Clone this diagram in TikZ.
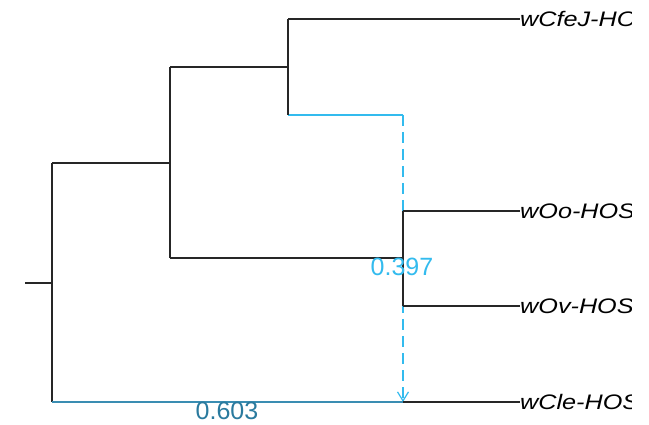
\documentclass[tikz,border=0pt]{standalone}
\usepackage{fontspec}
\setmainfont{Liberation Sans}
\usetikzlibrary{arrows.meta}
\definecolor{lightedge}{HTML}{33BBEE}
\definecolor{deepedge}{HTML}{3A8DB2}
\definecolor{deeptext}{HTML}{2A7A9E}
\tikzset{
  branch/.style={draw=black!85, line width=1.6pt},
  reticulate/.style={draw=lightedge, line width=1.6pt},
  major/.style={draw=deepedge, line width=1.6pt},
  hybrid/.style={draw=lightedge, line width=1.2pt, dash pattern=on 11pt off 6pt,
    -{Straight Barb[length=9pt,width=11pt,line width=1.2pt]}},
  tiplabel/.style={anchor=west, inner sep=0pt, xscale=1.2,
    font=\fontsize{21}{21}\selectfont\itshape},
  gammalabel/.style={inner sep=0pt, font=\fontsize{25}{25}\selectfont}
}
\begin{document}
\begin{tikzpicture}[x=1pt, y=-1pt]
\useasboundingbox (0,0) rectangle (649,425);
% internal vertices
\coordinate (root) at (25,283);
\coordinate (r) at (52,283);
\coordinate (rA) at (52,163);
\coordinate (rB) at (52,402);
\coordinate (a) at (170,163);
\coordinate (aU) at (170,67);
\coordinate (aD) at (170,258);
\coordinate (b) at (288,67);
\coordinate (bU) at (288,19);
\coordinate (bD) at (288,115);
\coordinate (h) at (403,115);
\coordinate (c) at (403,258);
\coordinate (cU) at (403,211);
\coordinate (cD) at (403,306);
\coordinate (m) at (403,402);
% tips
\coordinate (t1) at (520,19);
\coordinate (t2) at (520,211);
\coordinate (t3) at (520,306);
\coordinate (t4) at (520,402);

% reticulation (drawn first so the tree edges sit on top)
\draw[reticulate] (bD) -- (h);
\draw[hybrid] (h) -- (m);

% tree edges
\draw[branch] (root) -- (r);
\draw[branch] (rA) -- (rB);
\draw[branch] (rA) -- (a);
\draw[branch] (aU) -- (aD);
\draw[branch] (aU) -- (b);
\draw[branch] (bU) -- (bD);
\draw[branch] (bU) -- (t1);
\draw[branch] (aD) -- (c);
\draw[branch] (cU) -- (cD);
\draw[branch] (cU) -- (t2);
\draw[branch] (cD) -- (t3);
\draw[branch] (m) -- (t4);
\draw[major] (rB) -- (m);

% inheritance probabilities
\node[gammalabel, text=lightedge] (g1) at (402,267) {0.397};
\node[gammalabel, text=deeptext] (g2) at (227,411) {0.603};

% tip labels, cut at the plot margin
\begin{scope}
\clip (0,0) rectangle (631,425);
\node[tiplabel] (n1) at (t1) {wCfeJ-HOST};
\node[tiplabel] (n2) at (t2) {wOo-HOST};
\node[tiplabel] (n3) at (t3) {wOv-HOST};
\node[tiplabel] (n4) at (t4) {wCle-HOST};
\end{scope}
\end{tikzpicture}
\end{document}
